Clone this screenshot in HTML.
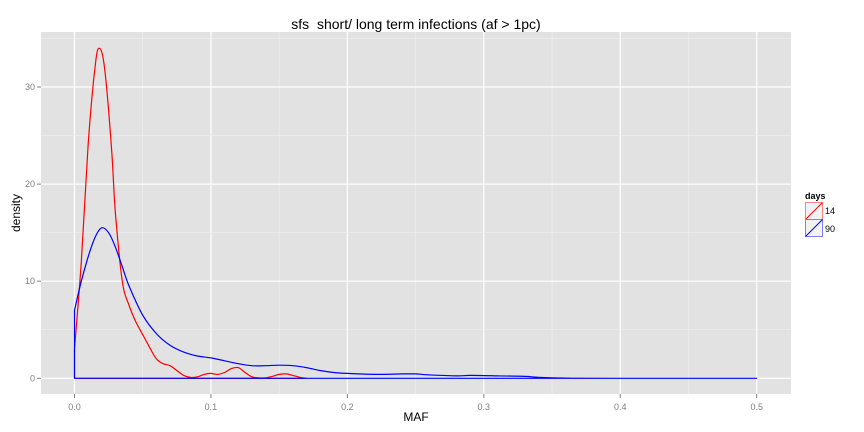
<!DOCTYPE html>
<html><head><meta charset="utf-8"><style>
body{margin:0;background:#fff}
svg{display:block;font-family:"Liberation Sans",sans-serif}
</style></head><body>
<svg id="chart" width="864" height="432">
<text x="416" y="29" text-anchor="middle" font-size="14" style="white-space:pre">sfs  short/ long term infections (af &gt; 1pc)</text>
<rect x="41" y="32" width="750" height="362" fill="#e2e2e2"/>
<g id="grid"></g>
<g id="series"></g>
<g id="axes"></g>
<text x="416" y="421" text-anchor="middle" font-size="12">MAF</text>
<text transform="translate(20,213) rotate(-90)" text-anchor="middle" font-size="12">density</text>
<g>
<text x="805" y="199" font-size="9" font-weight="bold">days</text>
<g>
<rect x="805.5" y="202.5" width="17" height="17" fill="#f2f2f2" stroke="#ff8080"/>
<line x1="805.5" y1="219.5" x2="822.5" y2="202.5" stroke="red"/>
<text x="825" y="214" font-size="9">14</text></g>
<g>
<rect x="805.5" y="219.5" width="17" height="17" fill="#f2f2f2" stroke="#8080ff"/>
<line x1="805.5" y1="236.5" x2="822.5" y2="219.5" stroke="blue"/>
<text x="825" y="232" font-size="9">90</text></g>
</g>
</svg>
<script>
const redX=[0,0.005,0.01,0.015,0.018,0.022,0.027,0.03,0.035,0.04,0.045,0.05,0.055,0.06,0.065,0.07,0.075,0.08,0.085,0.09,0.095,0.1,0.105,0.11,0.115,0.12,0.125,0.13,0.135,0.14,0.145,0.15,0.155,0.16,0.165,0.17];
const redY=[3,12,24,32,34,32,24,17,10,7.5,5.8,4.5,3.2,2,1.5,1.3,0.8,0.3,0.1,0.15,0.4,0.5,0.4,0.6,1.0,1.1,0.6,0.15,0.05,0.05,0.2,0.4,0.45,0.3,0.1,0];
const blueX=[0,0.005,0.01,0.015,0.02,0.025,0.03,0.035,0.04,0.05,0.06,0.07,0.08,0.09,0.1,0.11,0.12,0.13,0.14,0.15,0.16,0.17,0.18,0.19,0.2,0.22,0.24,0.25,0.26,0.28,0.29,0.31,0.33,0.34,0.36,0.4,0.5];
const blueY=[7,10,12.5,14.5,15.5,15,13.5,11.5,9.5,6.5,4.6,3.4,2.7,2.3,2.1,1.8,1.5,1.3,1.3,1.35,1.3,1.1,0.8,0.6,0.5,0.4,0.45,0.45,0.35,0.25,0.3,0.25,0.2,0.1,0.02,0,0];
const xTicks=[0,0.1,0.2,0.3,0.4,0.5];
const xTickLabels=["0.0","0.1","0.2","0.3","0.4","0.5"];
const yTicks=[0,10,20,30];
const yTickLabels=["0","10","20","30"];
const NS="http://www.w3.org/2000/svg";
const sx=v=>74.5+v*1364.4;
const sy=v=>378.3-v*9.71;
function mk(tag,attrs,parent){const e=document.createElementNS(NS,tag);for(const k in attrs)e.setAttribute(k,attrs[k]);parent.appendChild(e);return e;}
const grid=document.getElementById('grid'),axes=document.getElementById('axes'),series=document.getElementById('series');
for(let i=0;i<xTicks.length;i++){
  if(i<xTicks.length-1){const m=mk('line',{x1:sx(xTicks[i]+0.05),x2:sx(xTicks[i]+0.05),y1:32,y2:394,stroke:'#f0f0f0','stroke-width':0.6},grid);
  
  }
  const g=mk('line',{x1:sx(xTicks[i]),x2:sx(xTicks[i]),y1:32,y2:394,stroke:'#fff','stroke-width':1.2},grid);
  
  
  mk('line',{x1:sx(xTicks[i]),x2:sx(xTicks[i]),y1:394,y2:398,stroke:'#7f7f7f'},axes);
  const t=mk('text',{x:sx(xTicks[i]),y:410,'text-anchor':'middle','font-size':9,fill:'#7f7f7f'},axes);
  t.textContent=xTickLabels[i];
  
  
}
for(let i=0;i<yTicks.length;i++){
  const m=mk('line',{x1:41,x2:791,y1:sy(yTicks[i]+5),y2:sy(yTicks[i]+5),stroke:'#f0f0f0','stroke-width':0.6},grid);
  
  
  const g=mk('line',{x1:41,x2:791,y1:sy(yTicks[i]),y2:sy(yTicks[i]),stroke:'#fff','stroke-width':1.2},grid);
  
  
  mk('line',{x1:37,x2:41,y1:sy(yTicks[i]),y2:sy(yTicks[i]),stroke:'#7f7f7f'},axes);
  const t=mk('text',{x:35,y:sy(yTicks[i])+3,'text-anchor':'end','font-size':9,fill:'#7f7f7f'},axes);
  t.textContent=yTickLabels[i];
  
  
}
function outline(X,Y,color,name){
  const P=X.map((x,i)=>[sx(x),sy(Y[i])]);
  let d='M'+sx(X[0])+','+sy(0)+' L'+P[0][0].toFixed(1)+','+P[0][1].toFixed(1);
  for(let i=0;i<P.length-1;i++){
    const p0=P[i-1]||P[i],p1=P[i],p2=P[i+1],p3=P[i+2]||P[i+1];
    const c1=[p1[0]+(p2[0]-p0[0])/6,p1[1]+(p2[1]-p0[1])/6];
    const c2=[p2[0]-(p3[0]-p1[0])/6,p2[1]-(p3[1]-p1[1])/6];
    d+=' C'+c1.map(v=>v.toFixed(1))+' '+c2.map(v=>v.toFixed(1))+' '+p2.map(v=>v.toFixed(1));
  }
  d+=' L'+sx(X[X.length-1])+','+sy(0)+' Z';
  const p=mk('path',{d:d,fill:'none',stroke:color,'stroke-width':1.2,'stroke-linejoin':'round'},series);
  
  
}
outline(redX,redY,'red','density-14-days');
outline(blueX,blueY,'blue','density-90-days');
</script>
</body></html>
